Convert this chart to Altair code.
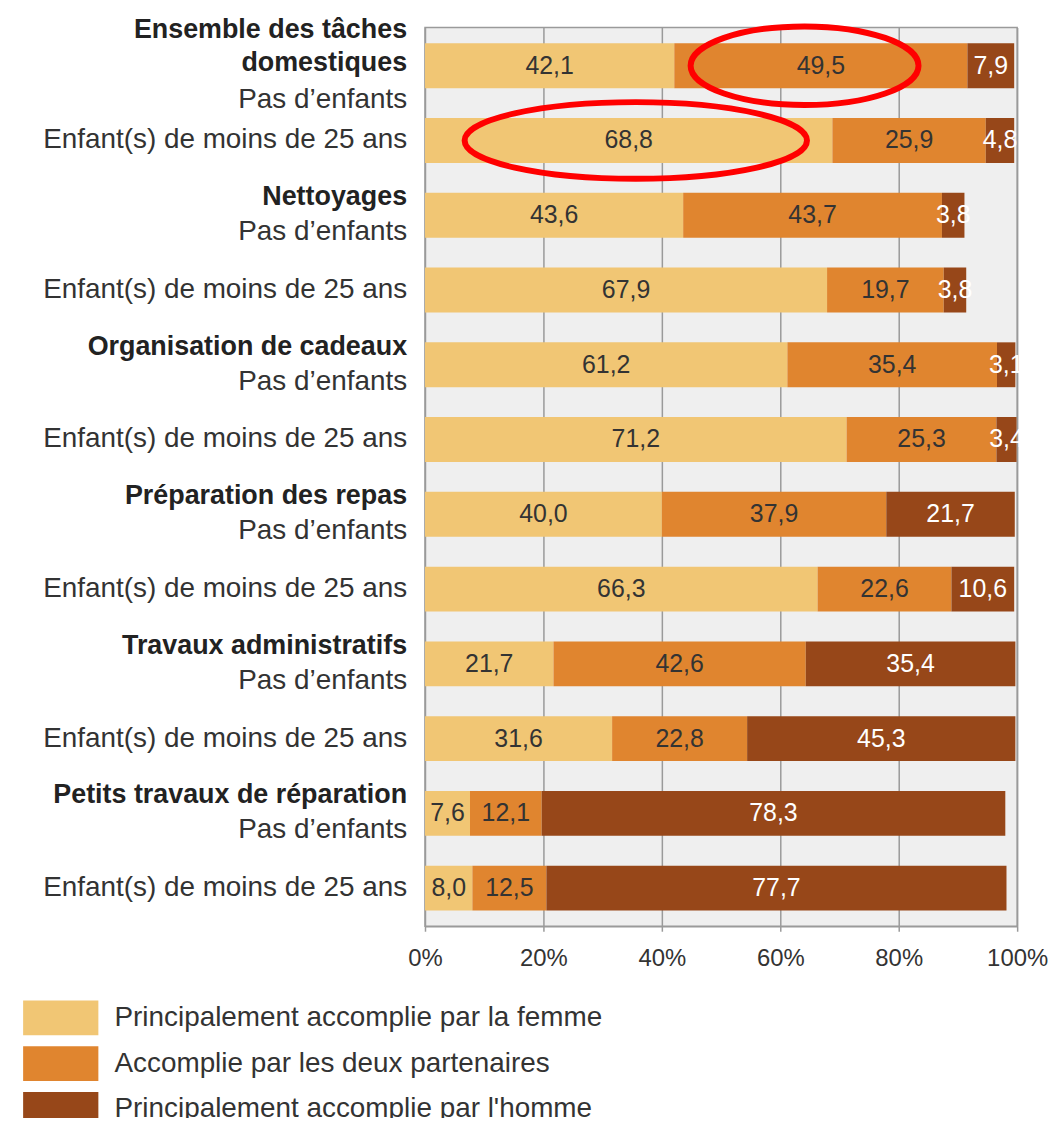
import altair as alt
import pandas as pd

# ---- data ----
category_lines = [
    ["Ensemble des tâches", "domestiques"],
    ["Nettoyages"],
    ["Organisation de cadeaux"],
    ["Préparation des repas"],
    ["Travaux administratifs"],
    ["Petits travaux de réparation"],
]
groups = ["Pas d’enfants", "Enfant(s) de moins de 25 ans"]
series = [
    "Principalement accomplie par la femme",
    "Accomplie par les deux partenaires",
    "Principalement accomplie par l'homme",
]
femme = [42.1, 68.8, 43.6, 67.9, 61.2, 71.2, 40.0, 66.3, 21.7, 31.6, 7.6, 8.0]
deux = [49.5, 25.9, 43.7, 19.7, 35.4, 25.3, 37.9, 22.6, 42.6, 22.8, 12.1, 12.5]
homme = [7.9, 4.8, 3.8, 3.8, 3.1, 3.4, 21.7, 10.6, 35.4, 45.3, 78.3, 77.7]
x_ticks = [0, 20, 40, 60, 80, 100]

# annotations (red ellipses): row index, centre (%), width px, height/width ratio
ell_rows = [0, 1]
ell_x = [64.1, 35.6]
ell_w = [229, 344]
ell_ratio = [0.345, 0.224]

colors = ["#F1C674", "#E0852F", "#974719"]
text_colors = ["#333333", "#333333", "#ffffff"]
FONT = "Liberation Sans"

# ---- tables ----
row_ids = [f"r{i:02d}" for i in range(len(femme))]
recs = []
for i, rid in enumerate(row_ids):
    for k, vals in enumerate([femme, deux, homme]):
        v = vals[i]
        recs.append({
            "row": rid, "series": series[k], "order": k, "value": v,
            "label": f"{v:.1f}".replace(".", ","), "tcolor": text_colors[k],
        })
df = pd.DataFrame(recs)

lab = []
for c, lines in enumerate(category_lines):
    r = row_ids[2 * c]
    if len(lines) == 2:
        lab.append({"row": r, "slot": "b2_1", "text": lines[0]})
        lab.append({"row": r, "slot": "b2_2", "text": lines[1]})
        lab.append({"row": r, "slot": "s2", "text": groups[0]})
    else:
        lab.append({"row": r, "slot": "b1", "text": lines[0]})
        lab.append({"row": r, "slot": "s1", "text": groups[0]})
    lab.append({"row": row_ids[2 * c + 1], "slot": "e", "text": groups[1]})
dlab = pd.DataFrame(lab)

slot_dy = {"b2_1": -36, "b2_2": -3, "s2": 34, "b1": -18, "s1": 17, "e": 0}
bold_slots = {"b2_1", "b2_2", "b1"}

dell = pd.DataFrame({
    "row": [row_ids[r] for r in ell_rows],
    "x": ell_x,
    "size": [w * w for w in ell_w],
    "shape": [f"M-1,0A1,{r},0,1,1,1,0A1,{r},0,1,1,-1,0Z" for r in ell_ratio],
})

yenc = alt.Y("row:N", sort=row_ids, axis=None,
             scale=alt.Scale(paddingInner=0.4, paddingOuter=0.21))
xscale = alt.Scale(domain=[0, 100], nice=False)

bars = alt.Chart(df).mark_bar().encode(
    y=yenc,
    x=alt.X("value:Q", stack="zero", scale=xscale,
            axis=alt.Axis(values=x_ticks, labelExpr="datum.value + '%'", title=None,
                          grid=True, gridColor="#9a9a9a", gridWidth=1.5,
                          tickColor="#9a9a9a", tickSize=5, tickWidth=1.5,
                          domainColor="#9a9a9a", domainWidth=1.5,
                          labelFont=FONT, labelFontSize=24, labelColor="#333333",
                          labelPadding=15, labelFlush=False)),
    color=alt.Color("series:N", sort=series,
                    scale=alt.Scale(domain=series, range=colors),
                    legend=alt.Legend(orient="none", legendX=-384, legendY=977,
                                      title=None, direction="vertical",
                                      symbolType="M-2.1,-0.97H2.1V0.97H-2.1Z",
                                      symbolSize=1296, symbolStrokeWidth=0,
                                      labelFont=FONT, labelFontSize=28,
                                      labelColor="#333333", labelOffset=36,
                                      rowPadding=10, labelLimit=800)),
    order=alt.Order("order:Q"),
)

vals = alt.Chart(df).transform_stack(
    stack="value", groupby=["row"], sort=[alt.SortField("order")], as_=["x0", "x1"]
).transform_calculate(mid="(datum.x0 + datum.x1) / 2").mark_text(
    font=FONT, fontSize=25, baseline="middle", align="center"
).encode(
    y=yenc,
    x=alt.X("mid:Q", scale=xscale),
    text="label:N",
    color=alt.Color("tcolor:N", scale=None),
)

label_layers = []
for slot, dy in slot_dy.items():
    bold = slot in bold_slots
    label_layers.append(
        alt.Chart(dlab).transform_filter(alt.datum.slot == slot).mark_text(
            font=FONT, fontSize=27 if bold else 28,
            fontWeight="bold" if bold else "normal",
            align="right", baseline="middle", dy=dy,
            color="#222222" if bold else "#333333",
        ).encode(y=yenc, x=alt.value(-18), text="text:N")
    )

ells = alt.Chart(dell).mark_point(
    filled=False, stroke="#ff0000", strokeWidth=6, opacity=1
).encode(
    y=yenc,
    x=alt.X("x:Q", scale=xscale),
    shape=alt.Shape("shape:N", scale=None),
    size=alt.Size("size:Q", scale=None),
)

chart = alt.layer(bars, vals, *label_layers, ells).properties(
    width=595, height=903,
    autosize=alt.AutoSizeParams(type="none"),
    padding={"left": 419, "top": 17, "right": 31, "bottom": 190},
).configure_view(fill="#efefef", stroke="#9a9a9a", strokeWidth=1.5)

chart.save("out.html", embed_options={"renderer": "svg", "actions": False})
